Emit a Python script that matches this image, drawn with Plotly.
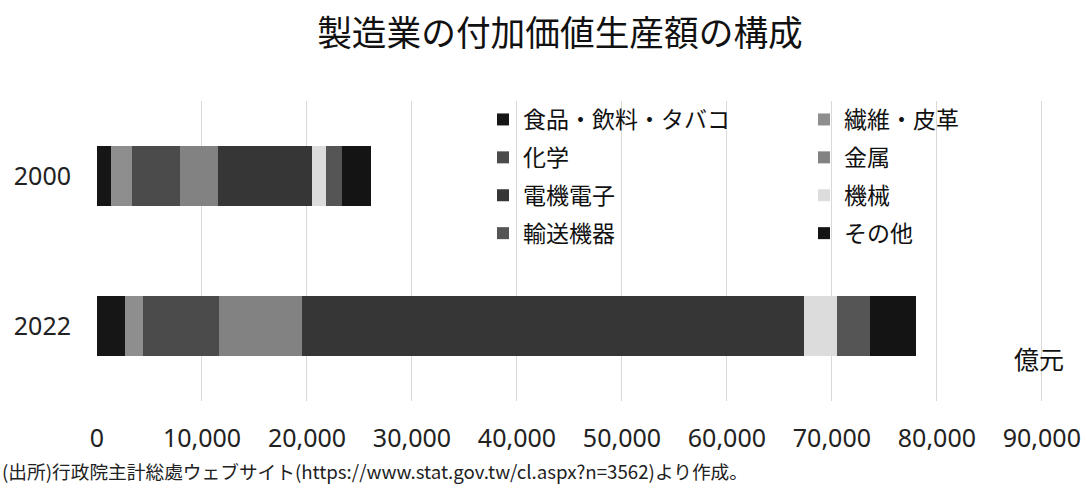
import plotly.graph_objects as go

years = ["2000", "2022"]
categories = ["食品・飲料・タバコ", "繊維・皮革", "化学", "金属", "電機電子", "機械", "輸送機器", "その他"]
values = {
    "食品・飲料・タバコ": [1300, 2700],
    "繊維・皮革": [2000, 1650],
    "化学": [4600, 7300],
    "金属": [3600, 7900],
    "電機電子": [9000, 47800],
    "機械": [1300, 3100],
    "輸送機器": [1500, 3200],
    "その他": [2800, 4400],
}
colors = ["#161616", "#8e8e8e", "#4b4b4b", "#828282", "#363636", "#dcdcdc", "#555555", "#141414"]
x_ticks = [0, 10000, 20000, 30000, 40000, 50000, 60000, 70000, 80000, 90000]
x_ticklabels = ["0", "10,000", "20,000", "30,000", "40,000", "50,000", "60,000", "70,000", "80,000", "90,000"]

JP = "Noto Sans CJK JP"
NUM = "Noto Sans"

L, R, T, B = 97, 41, 101, 87
W, H = 1086, 488
PW, PH = W - L - R, H - T - B


def px_x(px):
    return (px - L) / PW


def px_y(py):
    return (H - B - py) / PH


fig = go.Figure()
for i, c in enumerate(categories):
    fig.add_trace(go.Bar(
        y=years, x=values[c], name=c, orientation="h",
        marker=dict(color=colors[i], line=dict(width=0)),
        legend="legend" if i % 2 == 0 else "legend2",
        legendgroup=c,
    ))

legend_common = dict(
    font=dict(family=JP, size=23, color="#111111"),
    bgcolor="rgba(0,0,0,0)", traceorder="grouped", tracegroupgap=5,
    itemwidth=30, xanchor="left", yanchor="top",
)

fig.update_layout(
    width=W, height=H,
    barmode="stack", bargap=0.6,
    plot_bgcolor="white", paper_bgcolor="white",
    margin=dict(l=L, r=R, t=T, b=B, autoexpand=False),
    title=dict(text="製造業の付加価値生産額の構成", x=560/W, xref="container", xanchor="center",
               y=1-34/H, yref="container", yanchor="middle",
               font=dict(family=JP, size=34.7, color="#111111")),
    xaxis=dict(range=[0, 90300], tickvals=x_ticks, ticktext=x_ticklabels,
               showgrid=True, gridcolor="#d9d9d9", gridwidth=1, zeroline=False,
               tickfont=dict(family=NUM, size=25, color="#222222"), ticklabelstandoff=20,
               ticklabeloverflow="allow", showline=False, fixedrange=True),
    yaxis=dict(autorange="reversed", tickfont=dict(family=NUM, size=25, color="#222222"),
               ticklabelstandoff=25, showline=False),
    legend=dict(x=px_x(483), y=px_y(98), **legend_common),
    legend2=dict(x=px_x(804), y=px_y(98), **legend_common),
    annotations=[
        dict(text="億元", xref="paper", yref="paper", x=px_x(1039), y=px_y(358),
             showarrow=False, font=dict(family=JP, size=25, color="#111111"),
             xanchor="center", yanchor="middle"),
        dict(text="(出所)行政院主計総處ウェブサイト(https://www.stat.gov.tw/cl.aspx?n=3562)より作成。",
             xref="paper", yref="paper", x=px_x(0), y=px_y(470), showarrow=False,
             font=dict(family=JP, size=18.7, color="#222222"), xanchor="left", yanchor="middle"),
    ],
)

fig.write_html("out.html")
